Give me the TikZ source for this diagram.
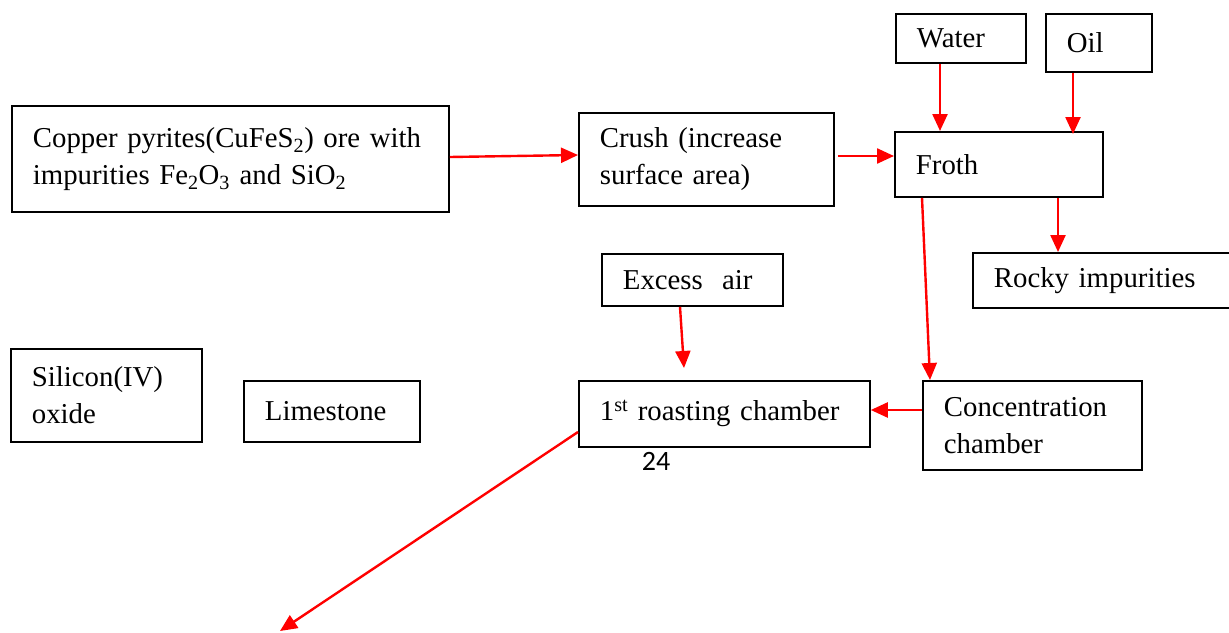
\documentclass[tikz,border=0pt]{standalone}
\usepackage{fontspec}
\setmainfont{Liberation Serif}
\newfontfamily\numfont{Carlito}
\usetikzlibrary{arrows.meta,calc}
\begin{document}
\begin{tikzpicture}[x=1pt,y=-1pt,
  box/.style={draw=black,line width=1.8pt,anchor=north west,inner xsep=21pt,inner ysep=0pt,
    align=left,font=\fontsize{28.8}{37}\selectfont},
  arr/.style={draw=red,line width=2.4pt,-{Triangle[length=17pt,width=15pt]}}]
\useasboundingbox (0,0) rectangle (1229,632);
\fill[white] (0,0) rectangle (1229,632);
\node[box,text width=395pt,minimum height=106pt] (copper) at (11,105)
  {Copper pyrites(CuFeS\textsubscript{2}) ore with\\impurities Fe\textsubscript{2}O\textsubscript{3} and SiO\textsubscript{2}};
\node[box,text width=213pt,minimum height=93pt] (crush) at (578,112)
  {Crush (increase\\surface area)};
\node[box,text width=88pt,minimum height=49pt] (water) at (895,13) {Water};
\node[box,text width=64pt,minimum height=58pt] (oil) at (1045,13) {Oil};
\node[box,text width=166pt,minimum height=65pt] (froth) at (894,131) {Froth};
\node[box,text width=250pt,minimum height=55pt] (rocky) at (972,252) {Rocky impurities};
\node[box,text width=139pt,minimum height=52pt] (excess) at (601,253) {Excess\ \ air};
\node[box,text width=149pt,minimum height=93pt] (silicon) at (10,348) {Silicon(IV)\\oxide};
\node[box,text width=134pt,minimum height=61pt] (lime) at (243,380) {Limestone};
\node[box,text width=249pt,minimum height=66pt] (roast) at (578,380) {1\textsuperscript{st} roasting chamber};
\node[box,text width=177pt,minimum height=89pt] (conc) at (922,380) {Concentration\\chamber};
\node[font=\numfont\fontsize{28}{32}\selectfont,inner sep=0pt] (pg) at (656,461) {24};
\coordinate (free) at (280,631);
\draw[arr] ([yshift=-52pt]copper.north east) -- ([yshift=-43pt]crush.north west);
\draw[arr] ([xshift=3pt,yshift=-44pt]crush.north east) -- ([yshift=-25pt]froth.north west);
\draw[arr] ([xshift=45pt]water.south west) -- ([xshift=46pt]froth.north west);
\draw[arr] ([xshift=28pt]oil.south west) -- ([xshift=179pt,yshift=-3pt]froth.north west);
\draw[arr] ([xshift=164pt]froth.south west) -- ([xshift=86pt]rocky.north west);
\draw[arr] ([xshift=28pt]froth.south west) -- ([xshift=8pt]conc.north west);
\draw[arr] ([xshift=79pt]excess.south west) -- ([xshift=106pt,yshift=12pt]roast.north west);
\draw[arr] ([yshift=-30pt]conc.north west) -- ([yshift=-30pt]roast.north east);
\draw[arr] ([yshift=-52pt]roast.north west) -- (free);
\end{tikzpicture}
\end{document}
